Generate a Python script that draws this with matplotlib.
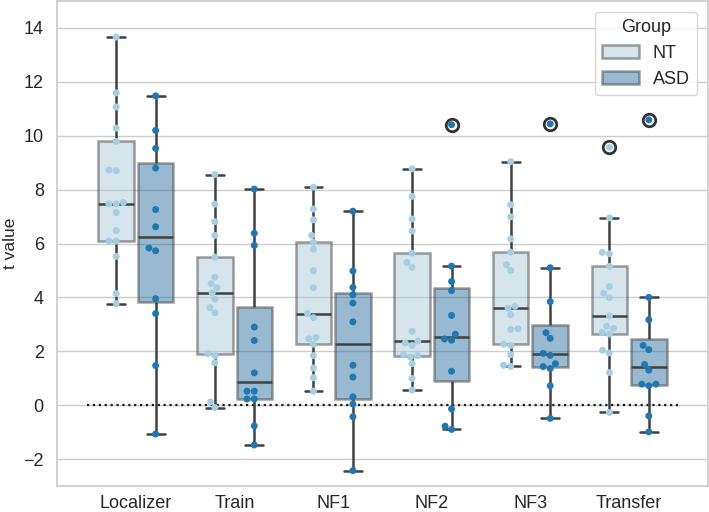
import matplotlib
matplotlib.use("Agg")
import matplotlib.pyplot as plt
from matplotlib.patches import Patch
import seaborn as sns
import pandas as pd
import colorsys
import matplotlib.colors as mcolors

# t values per condition
conditions = ["Localizer", "Train", "NF1", "NF2", "NF3", "Transfer"]
groups = ["NT", "ASD"]

nt_localizer = [13.66, 11.59, 11.07, 10.28, 9.79, 8.73, 8.70, 7.52, 7.47, 7.47, 7.15, 6.48, 6.09, 6.09, 5.52, 4.14, 3.77]
asd_localizer = [11.48, 10.20, 9.53, 8.80, 7.26, 6.62, 5.83, 5.73, 3.95, 3.40, 1.47, -1.07]
nt_train = [8.56, 7.46, 6.81, 6.30, 5.49, 4.75, 4.51, 4.36, 4.17, 3.93, 3.62, 3.43, 1.91, 1.84, 1.57, 0.12, -0.09]
asd_train = [8.02, 6.38, 5.93, 2.90, 2.40, 1.20, 0.52, 0.52, 0.23, 0.23, -0.77, -1.48]
nt_nf1 = [8.09, 7.28, 6.88, 6.30, 6.05, 5.79, 4.99, 4.36, 3.40, 3.25, 2.51, 2.46, 2.26, 1.84, 1.38, 1.02, 0.52]
asd_nf1 = [7.20, 4.98, 4.37, 4.10, 3.79, 3.09, 1.48, 1.04, 0.31, 0.04, -0.43, -2.43]
nt_nf2 = [8.77, 7.75, 6.91, 6.46, 5.64, 5.30, 5.12, 2.74, 2.38, 2.31, 2.22, 1.89, 1.84, 1.79, 1.54, 0.99, 0.56]
asd_nf2 = [10.41, 5.16, 4.59, 4.25, 3.33, 2.63, 2.46, 2.41, 1.26, -0.14, -0.78, -0.90]
nt_nf3 = [9.04, 7.44, 6.99, 6.17, 5.68, 5.21, 5.00, 3.67, 3.60, 3.36, 2.83, 2.81, 2.26, 2.22, 1.88, 1.48, 1.44]
asd_nf3 = [10.44, 5.10, 3.84, 2.69, 2.48, 1.92, 1.85, 1.54, 1.43, 1.36, 0.72, -0.49]
nt_transfer = [9.57, 6.95, 5.67, 5.62, 5.15, 4.40, 4.15, 3.99, 3.31, 2.93, 2.85, 2.70, 2.64, 2.04, 1.94, 1.21, -0.27]
asd_transfer = [10.59, 4.00, 3.17, 2.22, 2.06, 1.51, 1.30, 0.78, 0.78, 0.72, -0.40, -0.99]

nt_all = [nt_localizer, nt_train, nt_nf1, nt_nf2, nt_nf3, nt_transfer]
asd_all = [asd_localizer, asd_train, asd_nf1, asd_nf2, asd_nf3, asd_transfer]

rows = []
for cond, nt, asd in zip(conditions, nt_all, asd_all):
    for v in nt:
        rows.append((cond, "NT", v))
    for v in asd:
        rows.append((cond, "ASD", v))
df = pd.DataFrame(rows, columns=["condition", "Group", "t value"])

sns.set_theme(style="whitegrid")
plt.rcParams['font.family'] = ['Liberation Sans', 'DejaVu Sans']

pal = sns.color_palette("Paired", 2)

fig, ax = plt.subplots(figsize=(7.09, 5.12), dpi=100)
fig.subplots_adjust(left=0.0804, right=0.9986, bottom=0.0508, top=0.998)

sns.boxplot(data=df, x="condition", y="t value", hue="Group", hue_order=groups,
            order=conditions, palette=pal, gap=0.1, linewidth=1.8, linecolor=".25",
            flierprops=dict(marker="o", markersize=9, markerfacecolor="white",
                            markeredgecolor=".2", markeredgewidth=2),
            legend=False, ax=ax)
for p in ax.patches:
    p.set_alpha(0.5)

sns.swarmplot(data=df, x="condition", y="t value", hue="Group", hue_order=groups,
              order=conditions, palette=pal, dodge=True, size=5, legend=False,
              zorder=5, ax=ax)

# zero reference line
ax.hlines(0, -0.5, 5.5, colors="k", linestyles=":", linewidth=1.6, zorder=1)

ax.set_xlim(-0.8, 5.8)
ax.set_ylim(-3, 15)
ax.set_xlabel("")
ax.set_ylabel("t value", fontsize=12.5)
ax.tick_params(labelsize=13)
ax.tick_params(axis="x", pad=0.5)


def desat(c, s=0.75):
    h, l, sat = colorsys.rgb_to_hls(*mcolors.to_rgb(c))
    return colorsys.hls_to_rgb(h, l, sat * s)


handles = [Patch(facecolor=desat(c), edgecolor=".25", linewidth=1.8, alpha=0.5, label=g)
           for c, g in zip(pal, groups)]
ax.legend(handles=handles, title="Group", loc="upper right", fontsize=13, title_fontsize=13,
          borderaxespad=0.6)

fig.savefig("out.png", dpi=100)
